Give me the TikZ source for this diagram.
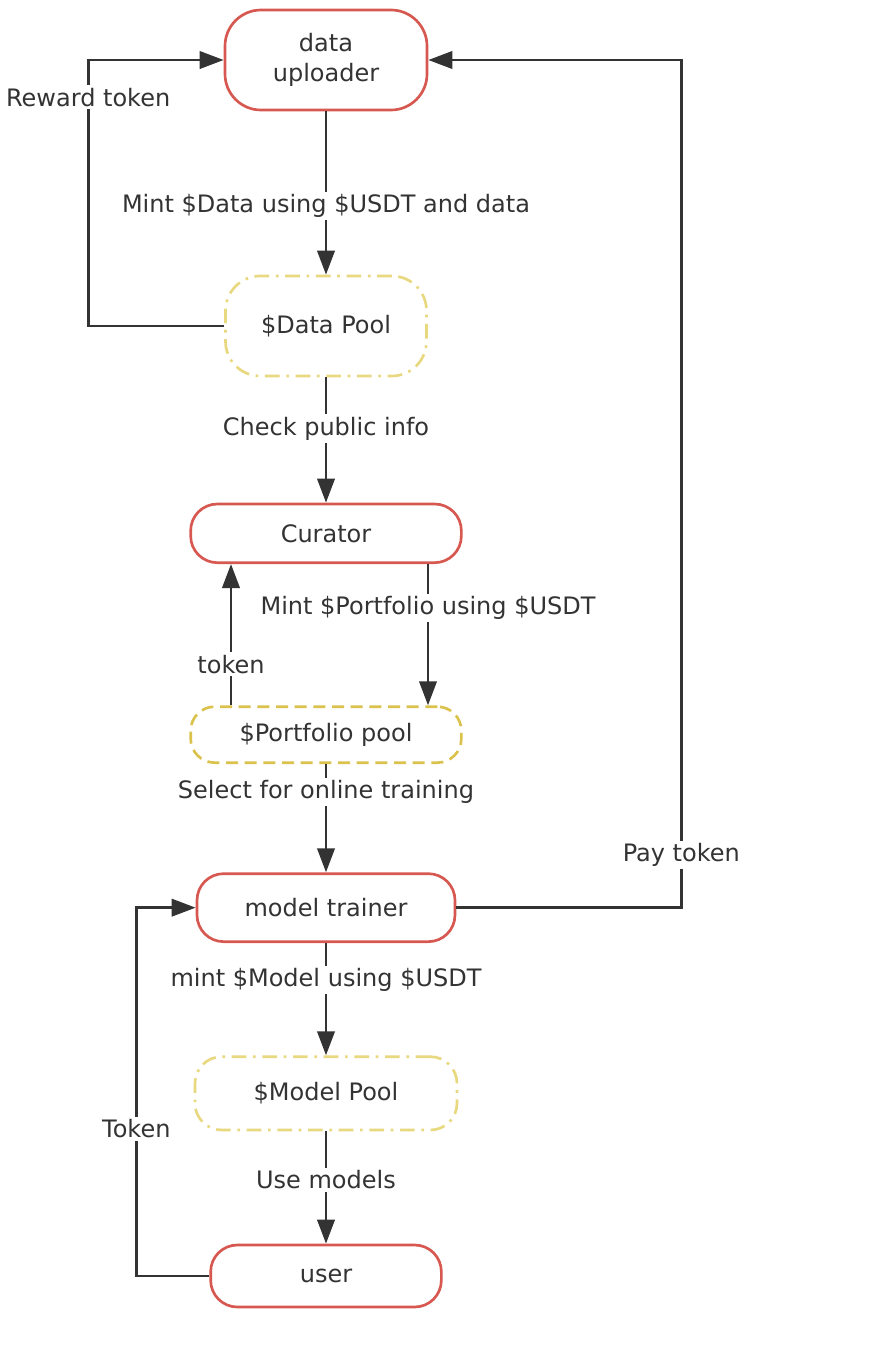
\documentclass[tikz,border=0pt]{standalone}
\usepackage{fontspec}
\setmainfont{DejaVu Sans}
\usepackage{tikz}
\usetikzlibrary{arrows.meta,positioning,calc}
\usepackage{xcolor}
\definecolor{actorred}{RGB}{215,88,80}
\definecolor{poolyellow}{RGB}{232,216,128}
\definecolor{portyellow}{RGB}{218,194,76}
\definecolor{inkgray}{RGB}{51,51,51}
\tikzset{
  actor/.style={rectangle,rounded corners=20pt,draw=actorred,line width=2pt,fill=white,text=inkgray,align=center},
  pool/.style={rectangle,rounded corners=20pt,draw=poolyellow,line width=2pt,fill=white,text=inkgray,
    dash pattern=on 11pt off 5pt on 2pt off 5pt},
  portpool/.style={rectangle,rounded corners=18pt,draw=portyellow,line width=2pt,fill=white,text=inkgray,
    dash pattern=on 9pt off 5pt},
  lbl/.style={fill=white,text=inkgray,inner sep=2pt},
}

\begin{document}
\begin{tikzpicture}[x=0.75pt,y=-0.75pt,-{Triangle[length=18pt,width=13pt]},line width=2.1pt,draw=inkgray,
  font=\fontsize{18}{23}\selectfont]
  \useasboundingbox (0,0) rectangle (874,1346);
  \node[actor,minimum width=151.5pt,minimum height=75pt,rounded corners=27pt] (upl) at (326,60) {data\\uploader};
  \node[pool,below=122.5pt of upl,minimum width=150.75pt,minimum height=75pt,rounded corners=26pt] (dpool) {\$Data Pool};
  \node[actor,below=94pt of dpool,minimum width=203pt,minimum height=44pt] (cur) {Curator};
  \node[portpool,below=106pt of cur,minimum width=203pt,minimum height=42pt] (port) {\$Portfolio pool};
  \node[actor,below=81.25pt of port,minimum width=193.5pt,minimum height=51pt] (trainer) {model trainer};
  \node[pool,below=84.25pt of trainer,minimum width=196.5pt,minimum height=55pt] (mpool) {\$Model Pool};
  \node[actor,below=84.25pt of mpool,minimum width=173pt,minimum height=46.5pt] (user) {user};

  \draw (upl) -- node[lbl,pos=0.58]{Mint \$Data using \$USDT and data} (dpool);
  \draw (dpool.west) -- ++(-136,0) |- node[lbl,pos=0.43]{Reward token} (upl.west);
  \draw (dpool) -- node[lbl,pos=0.41]{Check public info} (cur);
  \draw ([xshift=76.5pt]cur.south) -- node[lbl,pos=0.31]{Mint \$Portfolio using \$USDT} ([xshift=76.5pt]port.north);
  \draw ([xshift=-71.25pt]port.north) -- node[lbl,pos=0.29]{token} ([xshift=-71.25pt]cur.south);
  \draw (port) -- node[lbl,pos=0.26]{Select for online training} (trainer);
  \draw (trainer.east) -- ++(225,0) |- node[lbl,pos=0.031]{Pay token} (upl.east);
  \draw (trainer) -- node[lbl,pos=0.33]{mint \$Model using \$USDT} (mpool);
  \draw (mpool) -- node[lbl,pos=0.43]{Use models} (user);
  \draw (user.west) -- ++(-73,0) |- node[lbl,pos=0.2]{Token} (trainer.west);
\end{tikzpicture}
\end{document}
